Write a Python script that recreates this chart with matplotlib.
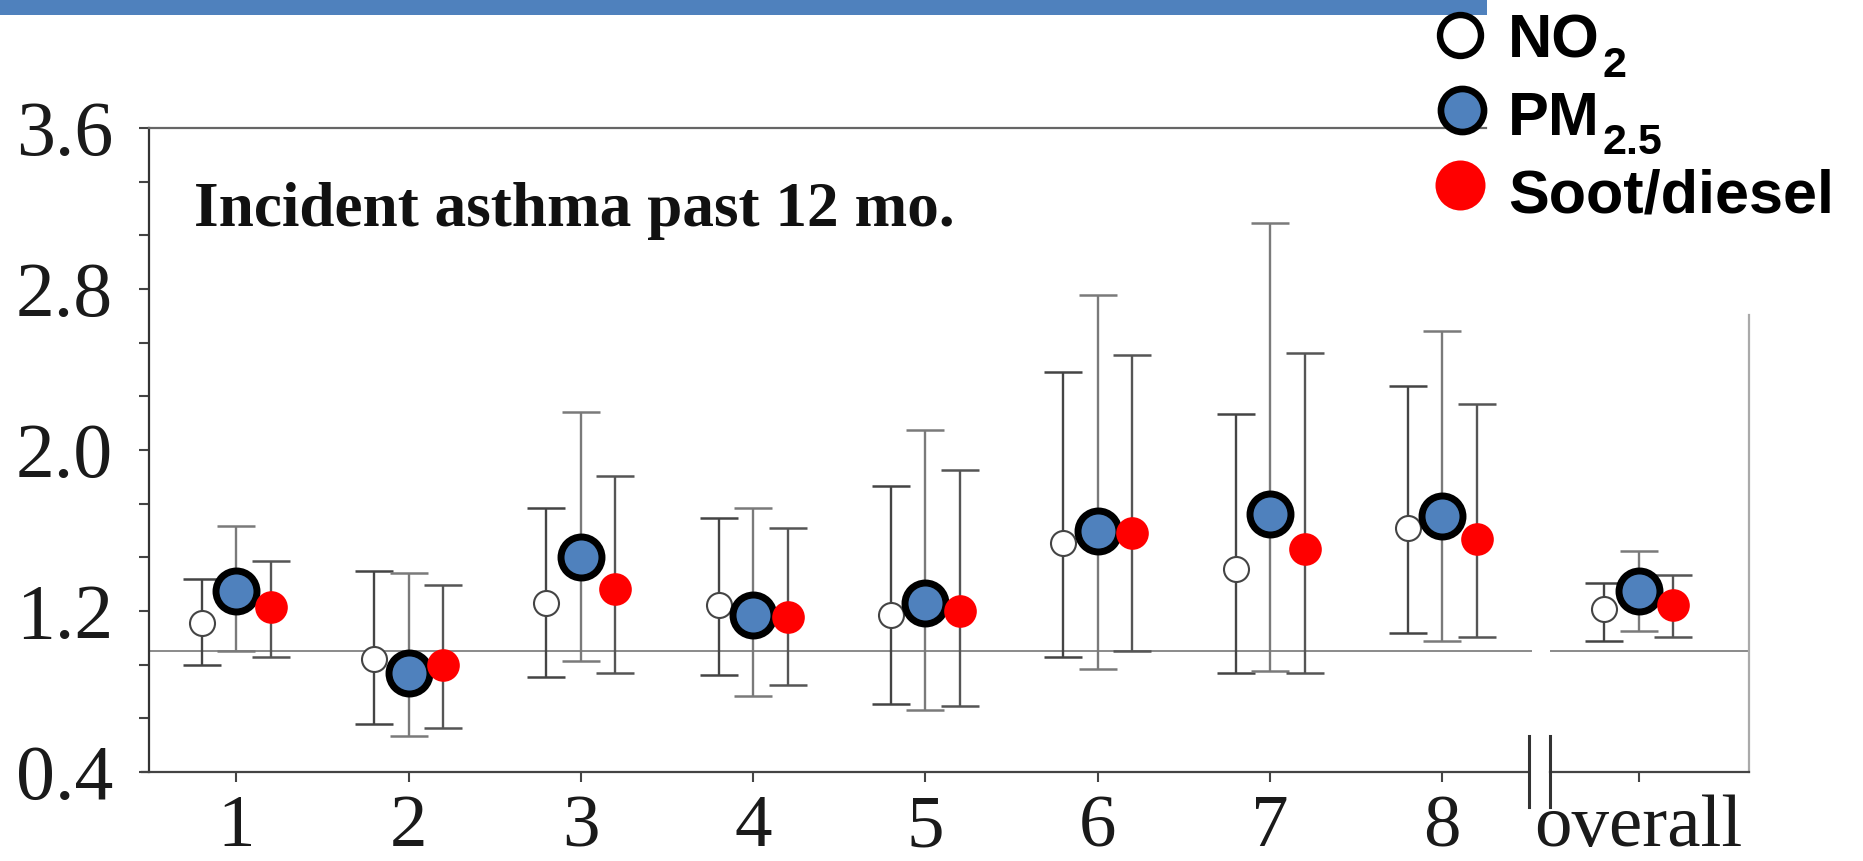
import numpy as np
import matplotlib
matplotlib.use('Agg')
import matplotlib.pyplot as plt
from matplotlib.lines import Line2D
from matplotlib.patches import Rectangle
from matplotlib.ticker import FixedLocator, MultipleLocator, FormatStrFormatter

# ---------------- data ----------------
categories = ['1', '2', '3', '4', '5', '6', '7', '8', 'overall']
x_pos = [1, 2, 3, 4, 5, 6, 7, 8, 9.14]

no2_or = [1.14, 0.96, 1.24, 1.23, 1.18, 1.54, 1.41, 1.61, 1.21]
no2_lo = [0.93, 0.64, 0.87, 0.88, 0.74, 0.97, 0.89, 1.09, 1.05]
no2_hi = [1.36, 1.40, 1.71, 1.66, 1.82, 2.39, 2.18, 2.32, 1.34]

pm_or = [1.30, 0.89, 1.47, 1.18, 1.24, 1.60, 1.68, 1.67, 1.30]
pm_lo = [1.00, 0.58, 0.95, 0.78, 0.71, 0.91, 0.90, 1.05, 1.10]
pm_hi = [1.62, 1.39, 2.19, 1.71, 2.10, 2.77, 3.13, 2.59, 1.50]

soot_or = [1.22, 0.93, 1.31, 1.17, 1.20, 1.59, 1.51, 1.56, 1.23]
soot_lo = [0.97, 0.62, 0.89, 0.83, 0.73, 1.00, 0.89, 1.07, 1.07]
soot_hi = [1.45, 1.33, 1.87, 1.61, 1.90, 2.47, 2.48, 2.23, 1.38]

y_major = [0.4, 1.2, 2.0, 2.8, 3.6]
title = 'Incident asthma past 12 mo.'
legend_main = ['NO', 'PM', 'Soot/diesel']
legend_sub = ['2', '2.5', '']

# ---------------- figure ----------------
W, H = 1863, 861
fig = plt.figure(figsize=(W / 100, H / 100), dpi=100)
fig.patch.set_facecolor('white')

# slide header bar
fig.patches.append(Rectangle((0, 1 - 15 / H), 1487 / W, 15 / H, transform=fig.transFigure,
                             facecolor='#4F81BD', edgecolor='none'))

ax = fig.add_axes([148.5 / W, (H - 772) / H, (1749 - 148.5) / W, (772 - 128) / H])
xlim = (0.49, 9.78)
ax.set_xlim(*xlim)
ax.set_ylim(0.4, 3.6)

serif = 'Liberation Serif'
off = 0.2
xa = np.array(x_pos, dtype=float)


def draw(xs, vals, lo, hi, ecol, **mk):
    vals = np.array(vals); lo = np.array(lo); hi = np.array(hi)
    ax.errorbar(xs, vals, yerr=[vals - lo, hi - vals], fmt='none', ecolor=ecol,
                elinewidth=1.7, capsize=14, capthick=1.8, zorder=2)
    ax.plot(xs, vals, linestyle='none', zorder=3, **mk)


draw(xa - off, no2_or, no2_lo, no2_hi, '#444444', marker='o', markersize=18,
     markerfacecolor='white', markeredgecolor='#444444', markeredgewidth=1.5)
draw(xa, pm_or, pm_lo, pm_hi, '#7a7a7a', marker='o', markersize=29.5,
     markerfacecolor='#4F81BD', markeredgecolor='black', markeredgewidth=5)
draw(xa + off, soot_or, soot_lo, soot_hi, '#555555', marker='o', markersize=23.5,
     markerfacecolor='#FF0000', markeredgecolor='none', markeredgewidth=0)

# reference line at 1 with break
ax.plot([xlim[0], 8.517], [1, 1], color='#8a8a8a', lw=1.4, zorder=1)
ax.plot([8.633, xlim[1]], [1, 1], color='#8a8a8a', lw=1.4, zorder=1)

# spines
for s in ['top', 'right', 'left', 'bottom']:
    ax.spines[s].set_linewidth(1.6)
ax.spines['left'].set_color('#333333')
ax.spines['top'].set_color('#666666')
ax.spines['top'].set_bounds(xlim[0], 8.256)
ax.spines['right'].set_color('#aaaaaa')
ax.spines['right'].set_bounds(0.4, 2.672)
ax.spines['bottom'].set_visible(False)
ax.plot([xlim[0] - 0.04, 8.505], [0.4, 0.4], color='#444444', lw=1.6, clip_on=False, zorder=4)
ax.plot([8.625, xlim[1]], [0.4, 0.4], color='#444444', lw=1.6, clip_on=False, zorder=4)
# axis break marks
for bx in [8.505, 8.625]:
    ax.plot([bx, bx], [0.58, 0.228], color='#333333', lw=2.2, clip_on=False, zorder=4)

# ticks
ax.xaxis.set_major_locator(FixedLocator(x_pos))
ax.set_xticklabels(categories)
ax.yaxis.set_major_locator(FixedLocator(y_major))
ax.yaxis.set_minor_locator(MultipleLocator(0.8 / 3, offset=0.4))
ax.yaxis.set_major_formatter(FormatStrFormatter('%.1f'))
ax.tick_params(axis='both', which='both', direction='out', length=7.5, width=1.5, color='#444444')
ax.tick_params(axis='y', which='major', pad=18, labelsize=56, labelcolor='#1a1a1a')
ax.tick_params(axis='x', which='major', pad=9, labelsize=54, labelcolor='#1a1a1a')
for lab in ax.get_xticklabels() + ax.get_yticklabels():
    lab.set_family(serif)

ax.text(0.0284, 0.848, title, transform=ax.transAxes, fontsize=45.5, fontweight='bold',
        family=serif, va='baseline', ha='left', color='#111111')

# ---------------- legend ----------------
def fx(px):
    return px / W


def fy(py):
    return 1 - py / H


leg_marks = [
    dict(x=1460, y=35, marker='o', markersize=29.5, markerfacecolor='white',
         markeredgecolor='black', markeredgewidth=4.6),
    dict(x=1462, y=110, marker='o', markersize=31, markerfacecolor='#4F81BD',
         markeredgecolor='black', markeredgewidth=4.8),
    dict(x=1460, y=185, marker='o', markersize=36, markerfacecolor='#FF0000',
         markeredgecolor='none', markeredgewidth=0),
]
baselines = [58, 135, 212]
for m, lab, sub, bl in zip(leg_marks, legend_main, legend_sub, baselines):
    mx, my = m.pop('x'), m.pop('y')
    fig.add_artist(Line2D([fx(mx)], [fy(my)], transform=fig.transFigure, linestyle='none', **m))
    fig.text(fx(1508), fy(bl), lab, fontsize=44, fontweight='bold', family='Liberation Sans',
             va='baseline', ha='left', color='black')
    if sub:
        fig.text(fx(1603), fy(bl + 19), sub, fontsize=31, fontweight='bold',
                 family='Liberation Sans', va='baseline', ha='left', color='black')

fig.savefig('out.png', dpi=100, facecolor='white')
